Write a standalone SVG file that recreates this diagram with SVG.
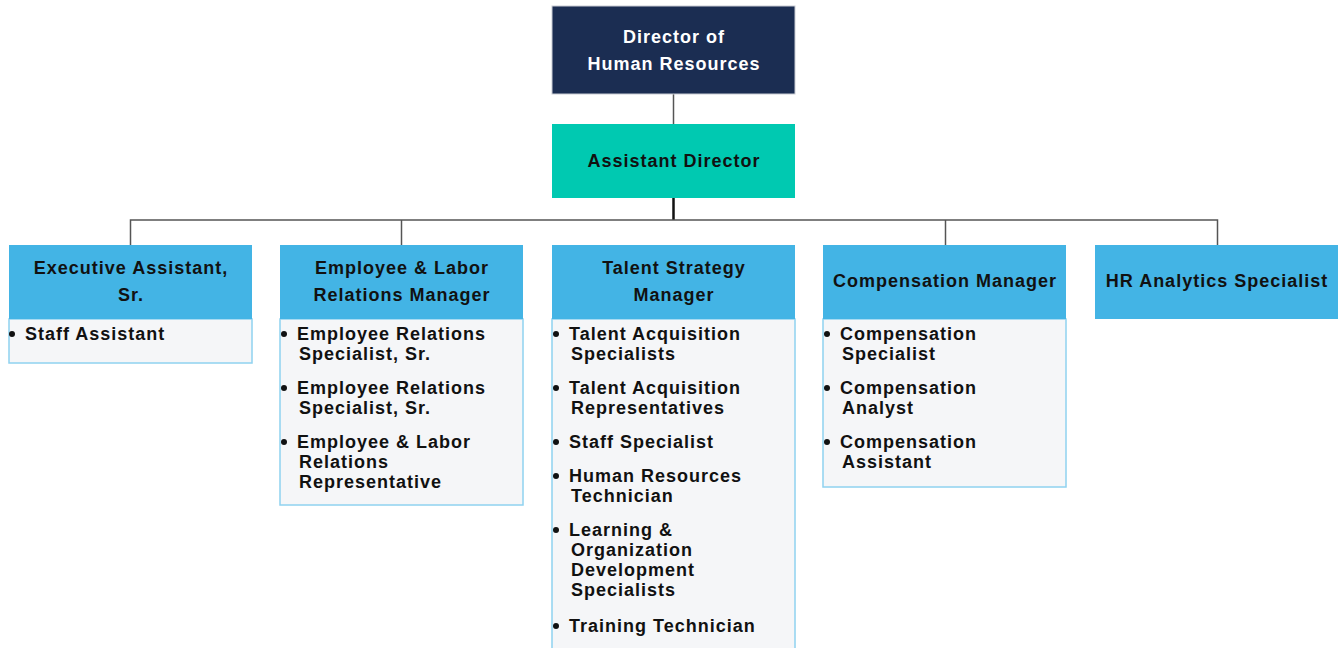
<svg xmlns="http://www.w3.org/2000/svg" width="1340" height="648" viewBox="0 0 1340 648">
<style>
.t{font-family:"Liberation Sans",Arial,sans-serif;font-weight:bold;font-size:18px;fill:#111;letter-spacing:1px}
.w{fill:#fff}
.c{text-anchor:middle}
.hd{fill:#43b4e5}
.bd{fill:#f5f6f8;stroke:#8fd2f0;stroke-width:1.5}
.ln{stroke:#555;stroke-width:1.5;fill:none}
.dot{fill:#111}
</style>
<rect width="1340" height="648" fill="#fff"/>
<g id="connectors">
<line class="ln" x1="673.5" y1="94" x2="673.5" y2="124"/>
<line x1="673.5" y1="198" x2="673.5" y2="220" stroke="#111" stroke-width="2.5"/>
<polyline class="ln" points="130.5,245 130.5,220 1217.5,220 1217.5,245"/>
<line class="ln" x1="401.5" y1="220" x2="401.5" y2="245"/>
<line class="ln" x1="945.5" y1="220" x2="945.5" y2="245"/>
</g>
<g id="director">
<rect x="552" y="6" width="243" height="88" fill="#1b2d52" stroke="#c9ccd3" stroke-width="1"/>
<text class="t w c" x="674" y="43">Director of</text>
<text class="t w c" x="674" y="70">Human Resources</text>
</g>
<g id="assistant-director">
<rect x="552" y="124" width="243" height="74" fill="#00c9b1"/>
<text class="t c" x="674" y="167">Assistant Director</text>
</g>
<g id="executive-assistant">
<rect class="bd" x="9" y="319" width="243" height="44"/>
<rect class="hd" x="9" y="245" width="243" height="74"/>
<text class="t c" x="131" y="274">Executive Assistant,</text>
<text class="t c" x="131" y="301">Sr.</text>
<circle class="dot" cx="12" cy="334" r="3"/>
<text class="t" x="25" y="340">Staff Assistant</text>
</g>
<g id="employee-labor">
<rect class="bd" x="280" y="319" width="243" height="186"/>
<rect class="hd" x="280" y="245" width="243" height="74"/>
<text class="t c" x="402" y="274">Employee &amp; Labor</text>
<text class="t c" x="402" y="301">Relations Manager</text>
<circle class="dot" cx="284" cy="334" r="3"/>
<text class="t" x="297" y="340">Employee Relations</text>
<text class="t" x="299" y="360">Specialist, Sr.</text>
<circle class="dot" cx="284" cy="388" r="3"/>
<text class="t" x="297" y="394">Employee Relations</text>
<text class="t" x="299" y="414">Specialist, Sr.</text>
<circle class="dot" cx="284" cy="442" r="3"/>
<text class="t" x="297" y="448">Employee &amp; Labor</text>
<text class="t" x="299" y="468">Relations</text>
<text class="t" x="299" y="488">Representative</text>
</g>
<g id="talent-strategy">
<rect class="bd" x="552" y="319" width="243" height="340"/>
<rect class="hd" x="552" y="245" width="243" height="74"/>
<text class="t c" x="674" y="274">Talent Strategy</text>
<text class="t c" x="674" y="301">Manager</text>
<circle class="dot" cx="556" cy="334" r="3"/>
<text class="t" x="569" y="340">Talent Acquisition</text>
<text class="t" x="571" y="360">Specialists</text>
<circle class="dot" cx="556" cy="388" r="3"/>
<text class="t" x="569" y="394">Talent Acquisition</text>
<text class="t" x="571" y="414">Representatives</text>
<circle class="dot" cx="556" cy="442" r="3"/>
<text class="t" x="569" y="448">Staff Specialist</text>
<circle class="dot" cx="556" cy="476" r="3"/>
<text class="t" x="569" y="482">Human Resources</text>
<text class="t" x="571" y="502">Technician</text>
<circle class="dot" cx="556" cy="530" r="3"/>
<text class="t" x="569" y="536">Learning &amp;</text>
<text class="t" x="571" y="556">Organization</text>
<text class="t" x="571" y="576">Development</text>
<text class="t" x="571" y="596">Specialists</text>
<circle class="dot" cx="556" cy="626" r="3"/>
<text class="t" x="569" y="632">Training Technician</text>
</g>
<g id="compensation">
<rect class="bd" x="823" y="319" width="243" height="168"/>
<rect class="hd" x="823" y="245" width="243" height="74"/>
<text class="t c" x="945" y="287">Compensation Manager</text>
<circle class="dot" cx="827" cy="334" r="3"/>
<text class="t" x="840" y="340">Compensation</text>
<text class="t" x="842" y="360">Specialist</text>
<circle class="dot" cx="827" cy="388" r="3"/>
<text class="t" x="840" y="394">Compensation</text>
<text class="t" x="842" y="414">Analyst</text>
<circle class="dot" cx="827" cy="442" r="3"/>
<text class="t" x="840" y="448">Compensation</text>
<text class="t" x="842" y="468">Assistant</text>
</g>
<g id="hr-analytics">
<rect class="hd" x="1095" y="245" width="243" height="74"/>
<text class="t c" x="1217" y="287">HR Analytics Specialist</text>
</g>
</svg>
